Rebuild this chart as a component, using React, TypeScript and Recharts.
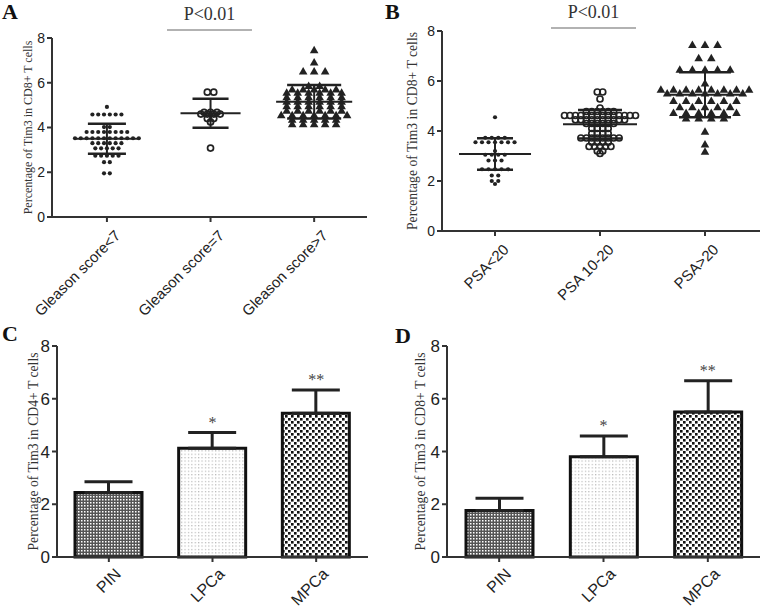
import React from 'react';
import {
  ScatterChart,
  Scatter,
  ComposedChart,
  Bar,
  ErrorBar,
  Cell,
  XAxis,
  YAxis,
  ReferenceLine,
} from 'recharts';

// category labels
const gleasonGroups = ['Gleason score<7', 'Gleason score=7', 'Gleason score>7'];
const psaGroups = ['PSA<20', 'PSA 10-20', 'PSA>20'];
const stageGroups = ['PIN', 'LPCa', 'MPCa'];
const yTicks = [0, 2, 4, 6, 8];

// A: Tim3 in CD8+ T cells by Gleason score
const gleasonBelow7 = [
  4.92,
  4.58, 4.58, 4.58, 4.58, 4.58, 4.58,
  4.02, 4.02,
  3.8, 3.8, 3.8, 3.8, 3.8, 3.8, 3.8, 3.8,
  3.52, 3.52, 3.52, 3.52, 3.52, 3.52, 3.52, 3.52, 3.52, 3.52, 3.52, 3.52,
  3.3, 3.3, 3.3, 3.3, 3.3, 3.3,
  3.07, 3.07, 3.07, 3.07, 3.07,
  2.74, 2.74, 2.74, 2.74, 2.74,
  2.45, 2.45,
  1.95, 1.95,
];
const gleasonEq7 = [5.58, 5.58, 4.68, 4.68, 4.68, 4.6, 4.6, 4.6, 4.6, 4.4, 4.4, 4.25, 3.08];
const gleasonAbove7 = [
  7.45,
  6.9,
  6.5, 6.5, 6.5,
  5.85, 5.85,
  5.7, 5.7, 5.7, 5.7, 5.7,
  5.55, 5.55, 5.55, 5.55, 5.55, 5.55,
  5.35, 5.35, 5.35, 5.35, 5.35, 5.35,
  5.15, 5.15, 5.15, 5.15, 5.15, 5.15,
  4.95, 4.95, 4.95, 4.95, 4.95, 4.95,
  4.75, 4.75, 4.75, 4.75, 4.75, 4.75,
  4.55, 4.55, 4.55, 4.55, 4.55, 4.55, 4.55,
  4.35, 4.35, 4.35, 4.35, 4.35,
  4.15, 4.15, 4.15, 4.15, 4.15,
];
const gleasonMeans = [3.5, 4.64, 5.15];
const gleasonSDs = [0.67, 0.65, 0.75];

// B: Tim3 in CD8+ T cells by PSA
const psaBelow20 = [
  4.55,
  3.73, 3.73, 3.73, 3.73,
  3.55, 3.55, 3.55, 3.55, 3.55, 3.55, 3.55,
  3.2,
  3.05, 3.05, 3.05, 3.05,
  2.82, 2.82, 2.82,
  2.47, 2.47, 2.47, 2.47, 2.47,
  2.22, 2.22,
  2.0, 2.0,
  1.88,
];
const psa10to20 = [
  5.56, 5.56,
  5.28,
  4.92,
  4.78, 4.78, 4.78, 4.78, 4.78, 4.78,
  4.62, 4.62, 4.62, 4.62, 4.62, 4.62, 4.62, 4.62, 4.62, 4.62, 4.62, 4.62, 4.62, 4.62,
  4.45, 4.45, 4.45, 4.45, 4.45, 4.45, 4.45, 4.45, 4.45, 4.45,
  4.3, 4.3, 4.3, 4.3, 4.3, 4.3,
  4.1, 4.1, 4.1, 4.1,
  3.9, 3.9, 3.9, 3.9,
  3.72, 3.72, 3.72, 3.72, 3.72, 3.72, 3.72, 3.72,
  3.55, 3.55, 3.55, 3.55,
  3.38, 3.38, 3.38, 3.38, 3.38,
  3.2, 3.2,
  3.1,
];
const psaAbove20 = [
  7.44, 7.44, 7.44,
  6.91, 6.91,
  6.45, 6.45, 6.45, 6.45, 6.45,
  5.9,
  5.65, 5.65, 5.65, 5.65, 5.65, 5.65, 5.65, 5.65,
  5.5, 5.5, 5.5, 5.5, 5.5, 5.5, 5.5,
  5.2, 5.2, 5.2, 5.2, 5.2, 5.2,
  4.95, 4.95, 4.95, 4.95, 4.95,
  4.72, 4.72, 4.72, 4.72, 4.72, 4.72,
  4.5, 4.5, 4.5, 4.5,
  3.97,
  3.46,
  3.17,
];
const psaMeans = [3.08, 4.27, 5.45];
const psaSDs = [0.63, 0.57, 0.9];

// C / D: bar charts (mean + SD)
const cd4Means = [2.45, 4.12, 5.45];
const cd4Errs = [0.4, 0.6, 0.88];
const cd8Means = [1.76, 3.8, 5.5];
const cd8Errs = [0.47, 0.79, 1.18];
const stageStars = ['', '*', '**'];

const SERIF = '"Liberation Serif", "Times New Roman", serif';
const SANS = '"Liberation Sans", Arial, sans-serif';
const INK = '#222';
const AXIS = '#333';

// spread points that share a value side by side, like a GraphPad dot plot
function swarm(values: number[], group: number, step: number) {
  const rows = new Map<number, number>();
  values.forEach((v) => rows.set(v, (rows.get(v) || 0) + 1));
  const pts: { x: number; y: number }[] = [];
  rows.forEach((n, v) => {
    for (let k = 0; k < n; k++) pts.push({ x: group + (k - (n - 1) / 2) * step, y: v });
  });
  return pts;
}

const Dot = (p: any) => <circle cx={p.cx} cy={p.cy} r={2.1} fill={INK} />;
const Ring = (p: any) => (
  <circle cx={p.cx} cy={p.cy} r={3} fill="none" stroke={INK} strokeWidth={1.7} />
);
const Tri = (p: any) => (
  <path d={`M${p.cx},${p.cy - 4.5}L${p.cx + 4.3},${p.cy + 3}L${p.cx - 4.3},${p.cy + 3}Z`} fill={INK} />
);

const SlantTick = ({ x, y, payload, labels, size, shift }: any) => {
  const label = labels ? labels[payload.value - 1] : payload.value;
  return (
    <g transform={`translate(${x + shift[0]},${y + shift[1]})`}>
      <text
        x={0}
        y={0}
        dy="0.71em"
        textAnchor="end"
        transform="rotate(-45)"
        fontSize={size}
        fontFamily={SANS}
        fill={INK}
      >
        {label}
      </text>
    </g>
  );
};

const axisLabel = (text: string, dx: number, size: number) => (props: any) => {
  const vb = props.viewBox;
  const cx = vb.x + dx;
  const cy = vb.y + vb.height / 2;
  return (
    <text
      x={cx}
      y={cy}
      transform={`rotate(-90, ${cx}, ${cy})`}
      textAnchor="middle"
      dominantBaseline="central"
      fontFamily={SERIF}
      fontSize={size}
      fill="#333"
    >
      {text}
    </text>
  );
};

function ScatterPanel({ cfg }: { cfg: any }) {
  const shapes = [Dot, Ring, Tri];
  return (
    <ScatterChart width={cfg.width} height={cfg.height} margin={cfg.margin}>
      <XAxis
        type="number"
        dataKey="x"
        domain={cfg.domain}
        ticks={[1, 2, 3]}
        allowDataOverflow
        interval={0}
        height={cfg.xHeight}
        stroke={AXIS}
        strokeWidth={2}
        tickSize={5}
        tick={<SlantTick labels={cfg.groups} size={15} shift={[7, 5]} />}
      />
      <YAxis
        type="number"
        dataKey="y"
        domain={[0, 8]}
        ticks={yTicks}
        width={40}
        stroke={AXIS}
        strokeWidth={2}
        tickSize={5}
        tick={{ fontSize: 14, fontFamily: SANS, fill: INK }}
        label={{ content: axisLabel('Percentage of Tim3 in CD8+ T cells', cfg.labelDx, cfg.labelSize) }}
      />
      {cfg.series.map((vals: number[], i: number) => (
        <Scatter
          key={i}
          data={swarm(vals, i + 1, cfg.steps[i])}
          shape={shapes[i]}
          isAnimationActive={false}
        />
      ))}
      {cfg.means.map((m: number, i: number) => {
        const g = i + 1;
        const s = cfg.sds[i];
        const mh = cfg.meanHalf[i] / cfg.pxPerUnit;
        const ch = cfg.capHalf[i] / cfg.pxPerUnit;
        return (
          <React.Fragment key={`ms${i}`}>
            <ReferenceLine segment={[{ x: g - mh, y: m }, { x: g + mh, y: m }]} stroke={INK} strokeWidth={2} />
            <ReferenceLine segment={[{ x: g, y: m - s }, { x: g, y: m + s }]} stroke={INK} strokeWidth={2} />
            <ReferenceLine segment={[{ x: g - ch, y: m + s }, { x: g + ch, y: m + s }]} stroke={INK} strokeWidth={2.5} />
            <ReferenceLine segment={[{ x: g - ch, y: m - s }, { x: g + ch, y: m - s }]} stroke={INK} strokeWidth={2.5} />
          </React.Fragment>
        );
      })}
      <ReferenceLine
        segment={cfg.bracket}
        ifOverflow="visible"
        stroke="#666"
        strokeWidth={1.1}
        label={{ value: 'P<0.01', position: 'top', offset: 10, fontFamily: SERIF, fontSize: 18, fill: '#333' }}
      />
    </ScatterChart>
  );
}

const StarMark = (p: any) => (
  <text x={p.cx} y={p.cy - 5} textAnchor="middle" fontFamily={SERIF} fontSize={16} fill="#444">
    {p.payload.star}
  </text>
);

function BarPanel({ cfg }: { cfg: any }) {
  const fills = ['url(#patPIN)', 'url(#patLPCa)', 'url(#patMPCa)'];
  const table = stageGroups.map((name, i) => ({
    name,
    value: cfg.means[i],
    err: [0, cfg.errs[i]],
    top: cfg.means[i] + cfg.errs[i],
    star: stageStars[i],
  }));
  return (
    <ComposedChart width={cfg.width} height={cfg.height} margin={cfg.margin} data={table}>
      <XAxis
        dataKey="name"
        height={50}
        interval={0}
        stroke={AXIS}
        strokeWidth={2}
        tickSize={5}
        tick={<SlantTick size={16} shift={[5, 3]} />}
      />
      <YAxis
        domain={[0, 8]}
        ticks={yTicks}
        width={45}
        stroke={AXIS}
        strokeWidth={2}
        tickSize={5}
        tick={{ fontSize: 17, fontFamily: SANS, fill: INK }}
        label={{ content: axisLabel(cfg.yLabel, cfg.labelDx, 13.7) }}
      />
      <Bar dataKey="value" barSize={67} stroke="#111" strokeWidth={3} isAnimationActive={false}>
        {table.map((d, i) => (
          <Cell key={d.name} fill={fills[i]} />
        ))}
        <ErrorBar dataKey="err" width={24} strokeWidth={3} stroke={INK} direction="y" />
      </Bar>
      <Scatter dataKey="top" shape={StarMark} isAnimationActive={false} />
    </ComposedChart>
  );
}

// the dot-plot svgs run a little past the 310px row so the slanted labels are not clipped
const panelA = {
  width: 380,
  height: 324,
  margin: { top: 38, right: 13, bottom: 17, left: 12 },
  xHeight: 90,
  domain: [0.47, 3.51],
  pxPerUnit: 103.5,
  groups: gleasonGroups,
  series: [gleasonBelow7, gleasonEq7, gleasonAbove7],
  steps: [0.056, 0.062, 0.106],
  means: gleasonMeans,
  sds: gleasonSDs,
  meanHalf: [33, 30, 38],
  capHalf: [19, 18, 27],
  bracket: [{ x: 1.58, y: 8.36 }, { x: 2.4, y: 8.36 }],
  labelDx: 15.5,
  labelSize: 12,
};

const panelB = {
  width: 381,
  height: 324,
  margin: { top: 31, right: 1, bottom: 17, left: 22 },
  xHeight: 76,
  domain: [0.495, 3.524],
  pxPerUnit: 105,
  groups: psaGroups,
  series: [psaBelow20, psa10to20, psaAbove20],
  steps: [0.062, 0.052, 0.12],
  means: psaMeans,
  sds: psaSDs,
  meanHalf: [36, 37, 35],
  capHalf: [18, 22, 26],
  bracket: [{ x: 1.533, y: 8.12 }, { x: 2.343, y: 8.12 }],
  labelDx: 10,
  labelSize: 13.7,
};

const panelC = {
  width: 380,
  height: 299,
  margin: { top: 36, right: 12, bottom: 2, left: 12 },
  means: cd4Means,
  errs: cd4Errs,
  yLabel: 'Percentage of Tim3 in CD4+ T cells',
  labelDx: 21,
};

const panelD = {
  width: 381,
  height: 299,
  margin: { top: 36, right: 1, bottom: 2, left: 22 },
  means: cd8Means,
  errs: cd8Errs,
  yLabel: 'Percentage of Tim3 in CD8+ T cells',
  labelDx: 18,
};

const letterStyle: React.CSSProperties = {
  position: 'absolute',
  fontFamily: SERIF,
  fontWeight: 'bold',
  fontSize: 22,
  lineHeight: 1,
  color: '#111',
};

export default function App() {
  return (
    <div style={{ position: 'absolute', left: 0, top: 0, width: 761, height: 609, background: '#fff', overflow: 'hidden' }}>
      <svg width={0} height={0} style={{ position: 'absolute' }}>
        <defs>
          <pattern id="patPIN" width={3} height={3} patternUnits="userSpaceOnUse">
            <rect width={3} height={3} fill="#555" />
            <rect x={0} y={0} width={1.5} height={1.5} fill="#fff" />
          </pattern>
          <pattern id="patLPCa" width={3.4} height={3.4} patternUnits="userSpaceOnUse">
            <rect width={3.4} height={3.4} fill="#fff" />
            <rect x={1} y={1} width={1} height={1} fill="#9a9a9a" />
          </pattern>
          <pattern id="patMPCa" width={6} height={6} patternUnits="userSpaceOnUse">
            <rect width={6} height={6} fill="#fff" />
            <rect x={0} y={0} width={2.6} height={2.6} fill="#111" />
            <rect x={3} y={3} width={2.6} height={2.6} fill="#111" />
          </pattern>
        </defs>
      </svg>
      <div style={{ position: 'absolute', left: 0, top: 310 }}>
        <BarPanel cfg={panelC} />
      </div>
      <div style={{ position: 'absolute', left: 380, top: 310 }}>
        <BarPanel cfg={panelD} />
      </div>
      <div style={{ position: 'absolute', left: 0, top: 0 }}>
        <ScatterPanel cfg={panelA} />
      </div>
      <div style={{ position: 'absolute', left: 380, top: 0 }}>
        <ScatterPanel cfg={panelB} />
      </div>
      <div style={{ ...letterStyle, left: 2, top: 1 }}>A</div>
      <div style={{ ...letterStyle, left: 385, top: 1 }}>B</div>
      <div style={{ ...letterStyle, left: 2, top: 323 }}>C</div>
      <div style={{ ...letterStyle, left: 395, top: 325 }}>D</div>
    </div>
  );
}
